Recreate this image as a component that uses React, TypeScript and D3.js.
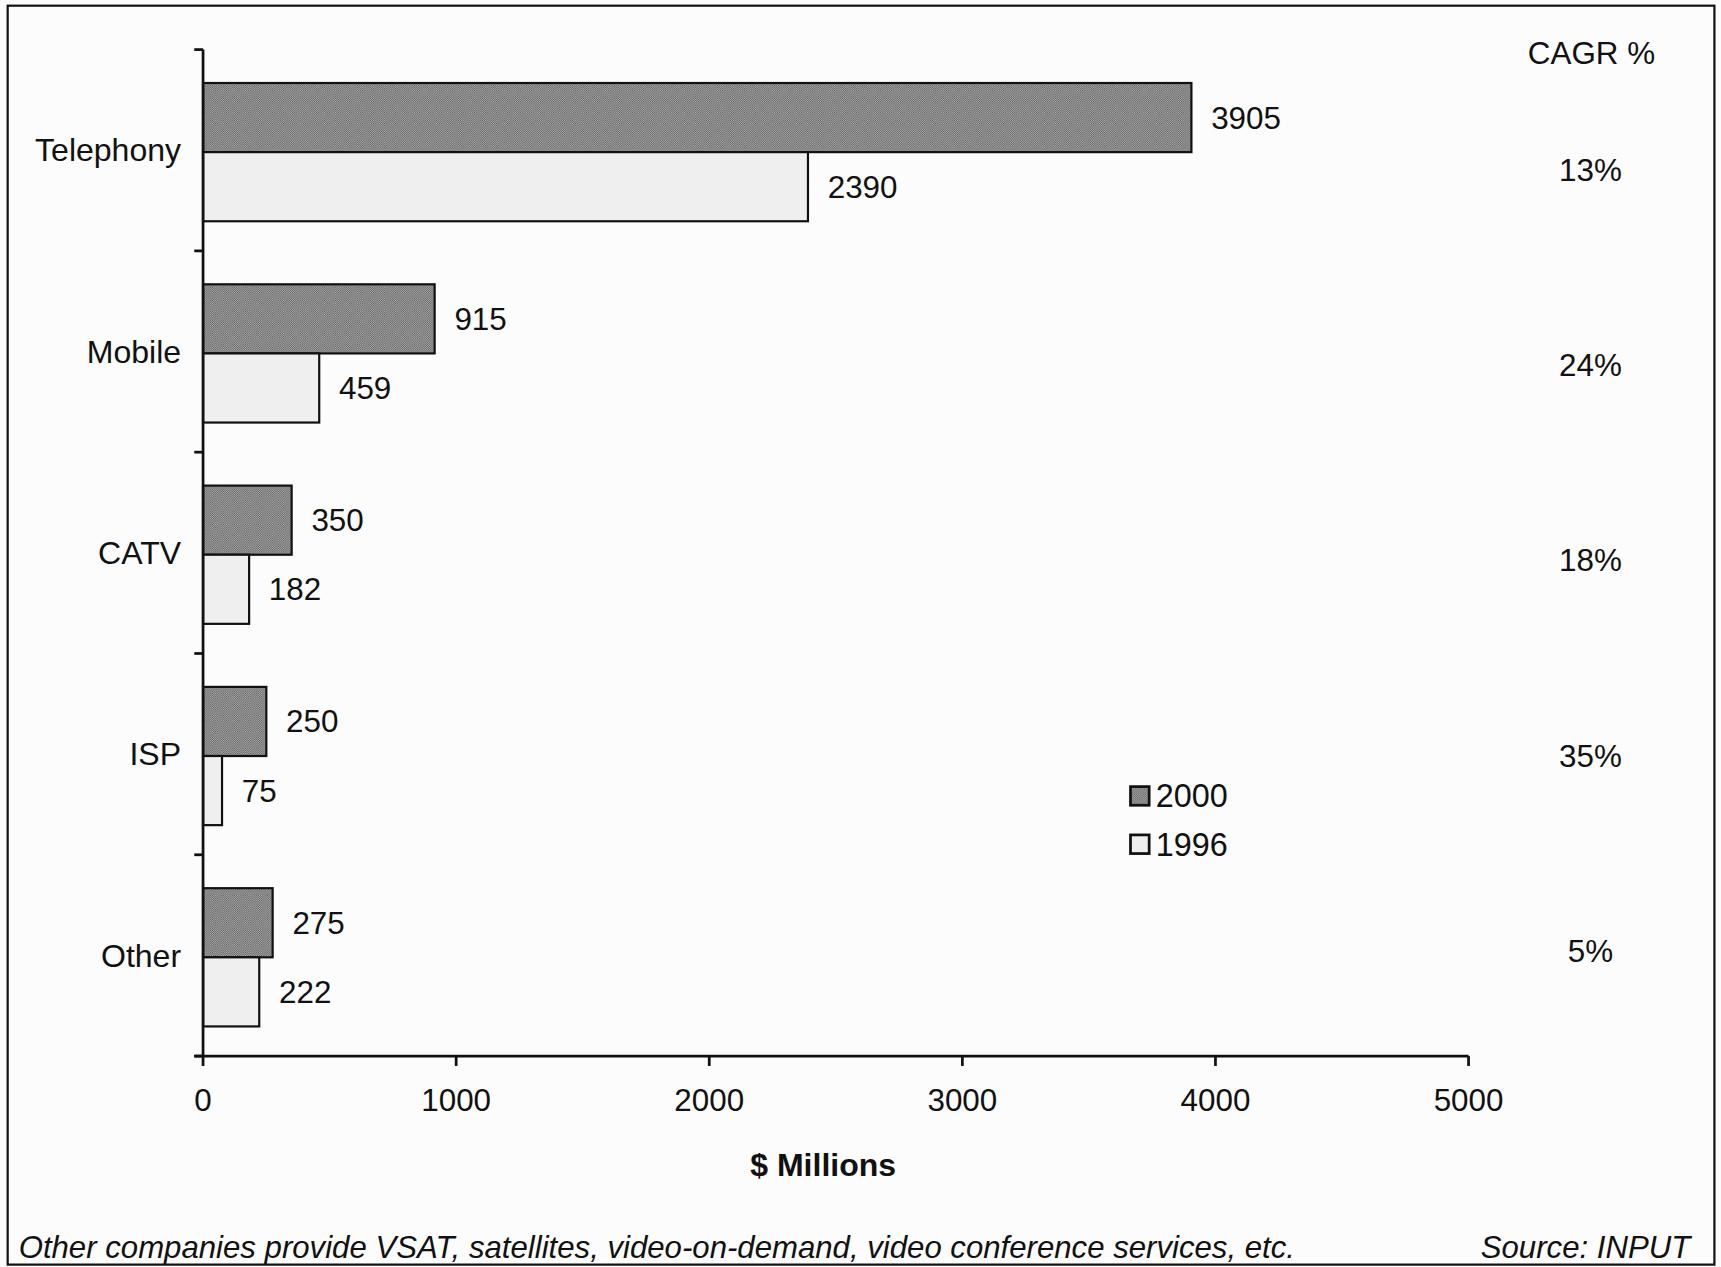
import React from "react";
import * as d3 from "d3";

const categories = ["Telephony", "Mobile", "CATV", "ISP", "Other"];
const series = ["2000", "1996"];
const values2000 = [3905, 915, 350, 250, 275];
const values1996 = [2390, 459, 182, 75, 222];
const cagr = ["13%", "24%", "18%", "35%", "5%"];
const xTicks = [0, 1000, 2000, 3000, 4000, 5000];
const xTitle = "$ Millions";
const cagrTitle = "CAGR %";
const footnote = "Other companies provide VSAT, satellites, video-on-demand, video conference services, etc.";
const source = "Source: INPUT";

const W = 1568;
const H = 1154;
const FONT = "'Liberation Sans', Arial, Helvetica, sans-serif";
const FS = 28.6;

export default function App() {
  const x = d3.scaleLinear().domain([0, 5000]).range([185, 1338]);
  const y = d3.scaleBand<string>().domain(categories).range([45, 962]).padding(0);
  const sub = d3
    .scaleBand<string>()
    .domain(series)
    .range([0, y.bandwidth()])
    .paddingInner(0)
    .paddingOuter(0.456)
    .align(0.53);
  const cagrY = d3.scalePoint<string>().domain(categories).range([155, 866]);
  const legendY = d3.scalePoint<string>().domain(series).range([725, 769]);
  const data = [values2000, values1996];
  const bandTicks = d3.range(categories.length + 1).map((i) => 45 + i * y.step());

  return (
    <div style={{ position: "fixed", left: 0, top: 0, width: 1721, height: 1267, background: "#fcfcfc" }}>
      <svg width={1721} height={1267} viewBox={`0 0 ${W} ${H}`} style={{ display: "block" }} fontFamily={FONT}>
        <defs>
          <pattern id="dots" patternUnits="userSpaceOnUse" width={2} height={2}>
            <rect width={2} height={2} fill="#b4b4b4" />
            <rect width={1} height={1} fill="#5a5a5a" />
            <rect x={1} y={1} width={1} height={1} fill="#5a5a5a" />
          </pattern>
        </defs>
        <rect x={0} y={0} width={W} height={H} fill="#fcfcfc" />
        <rect x={7} y={5} width={1555} height={1147} fill="none" stroke="#111" strokeWidth={2} />

        {/* bars */}
        {categories.map((c, i) =>
          series.map((s, j) => {
            const v = data[j][i];
            const by = (y(c) as number) + (sub(s) as number);
            const bh = sub.bandwidth();
            return (
              <g key={c + s}>
                <rect
                  x={x(0)}
                  y={by}
                  width={x(v) - x(0)}
                  height={bh}
                  fill={j === 0 ? "url(#dots)" : "#efefef"}
                  stroke="#111"
                  strokeWidth={2}
                />
                <text x={x(v) + 18} y={by + bh / 2} dy="0.35em" fontSize={FS} fill="#111">
                  {v}
                </text>
              </g>
            );
          })
        )}

        {/* y axis */}
        <line x1={185} x2={185} y1={45} y2={962} stroke="#111" strokeWidth={2.5} />
        {bandTicks.map((t, i) => (
          <line key={i} x1={177} x2={185} y1={t} y2={t} stroke="#111" strokeWidth={2.5} />
        ))}
        {categories.map((c) => (
          <text
            key={c}
            x={165}
            y={(y(c) as number) + y.bandwidth() / 2}
            dy="0.35em"
            textAnchor="end"
            fontSize={29.2}
            fill="#111"
          >
            {c}
          </text>
        ))}

        {/* x axis */}
        <line x1={177} x2={x(5000)} y1={962} y2={962} stroke="#111" strokeWidth={2.5} />
        {xTicks.map((t) => (
          <g key={t}>
            <line x1={x(t)} x2={x(t)} y1={962} y2={971} stroke="#111" strokeWidth={2.5} />
            <text x={x(t)} y={1002} dy="0.35em" textAnchor="middle" fontSize={FS} fill="#111">
              {t}
            </text>
          </g>
        ))}
        <text x={750} y={1061} dy="0.35em" textAnchor="middle" fontSize={29.2} fontWeight="bold" fill="#111">
          {xTitle}
        </text>

        {/* CAGR column */}
        <text x={1450} y={48} dy="0.35em" textAnchor="middle" fontSize={FS} fill="#111">
          {cagrTitle}
        </text>
        {categories.map((c, i) => (
          <text key={c} x={1449} y={cagrY(c)} dy="0.35em" textAnchor="middle" fontSize={FS} fill="#111">
            {cagr[i]}
          </text>
        ))}

        {/* legend */}
        {series.map((s, j) => (
          <g key={s}>
            <rect
              x={1030}
              y={(legendY(s) as number) - 8.5}
              width={17}
              height={17}
              fill={j === 0 ? "url(#dots)" : "#efefef"}
              stroke="#111"
              strokeWidth={2.5}
            />
            <text x={1053} y={legendY(s)} dy="0.35em" fontSize={29.5} fill="#111">
              {s}
            </text>
          </g>
        ))}

        {/* footnote */}
        <text x={17} y={1136} dy="0.35em" fontSize={28.4} fontStyle="italic" fill="#111">
          {footnote}
        </text>
        <text x={1540} y={1136} dy="0.35em" textAnchor="end" fontSize={28.4} fontStyle="italic" fill="#111">
          {source}
        </text>
      </svg>
    </div>
  );
}
